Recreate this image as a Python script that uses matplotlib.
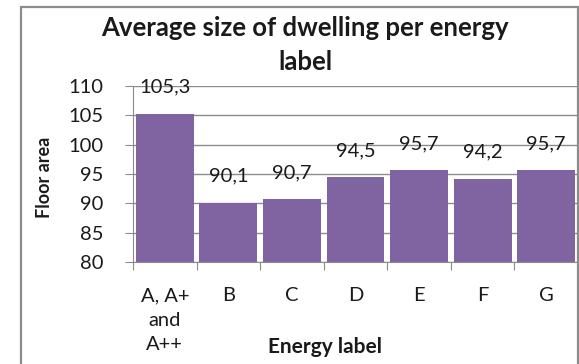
import matplotlib.pyplot as plt
from matplotlib.patches import Rectangle

labels = ['A, A+\nand\nA++', 'B', 'C', 'D', 'E', 'F', 'G']
floor_area = [105.3, 90.1, 90.7, 94.5, 95.7, 94.2, 95.7]
value_text = ['105,3', '90,1', '90,7', '94,5', '95,7', '94,2', '95,7']

plt.rcParams['font.family'] = ['Lato', 'DejaVu Sans']
plt.rcParams['text.color'] = '#1a1a1a'
plt.rcParams['xtick.color'] = '#1a1a1a'
plt.rcParams['ytick.color'] = '#1a1a1a'

W, H = 579, 364
fig = plt.figure(figsize=(W / 100, H / 100), dpi=100)
ax = fig.add_axes([133 / W, 1 - 262 / H, (578 - 133) / W, (262 - 86) / H])

# outer chart frame
fig.patches.append(Rectangle((21 / W, -0.05), (578 - 21) / W, 1.05 - 7 / H,
                             transform=fig.transFigure, fill=False,
                             edgecolor='#8c8c8c', linewidth=1.6))

x = list(range(len(labels)))
ax.bar(x, floor_area, width=0.91, color='#8064a2', zorder=2)
ax.set_xlim(-0.5, 6.5)
ax.set_ylim(80, 110)
ax.set_yticks(range(80, 111, 5))
ax.yaxis.grid(True, color='#8c8c8c', linewidth=1.0, zorder=0)

for i, v in enumerate(floor_area):
    ax.annotate(value_text[i], (i, v), xytext=(0, 19), textcoords='offset points',
                ha='center', va='center', fontsize=14.5)

# category ticks sit on the boundaries, labels in the middle
ax.set_xticks([i - 0.5 for i in range(len(labels) + 1)])
ax.set_xticklabels([])
ax.set_xticks(x, minor=True)
ax.set_xticklabels(labels, minor=True, fontsize=14.5, linespacing=1.55, va='top')
ax.tick_params(axis='x', which='minor', length=0, pad=18)
ax.tick_params(axis='x', which='major', length=6, color='#8c8c8c')
ax.tick_params(axis='y', length=6, color='#8c8c8c', labelsize=14.5, pad=15)

for side in ['top', 'right']:
    ax.spines[side].set_visible(False)
for side in ['left', 'bottom']:
    ax.spines[side].set_color('#8c8c8c')

fig.text(305 / W, 1 - 45 / H, 'Average size of dwelling per energy\nlabel',
         ha='center', va='center', fontsize=18.5, fontweight='bold', linespacing=1.45)
fig.text(325 / W, 1 - 347 / H, 'Energy label', ha='center', va='center',
         fontsize=15, fontweight='bold')
fig.text(45 / W, 1 - 177 / H, 'Floor area', ha='center', va='center',
         rotation=90, fontsize=13, fontweight='bold')

fig.savefig('out.png', dpi=100)
